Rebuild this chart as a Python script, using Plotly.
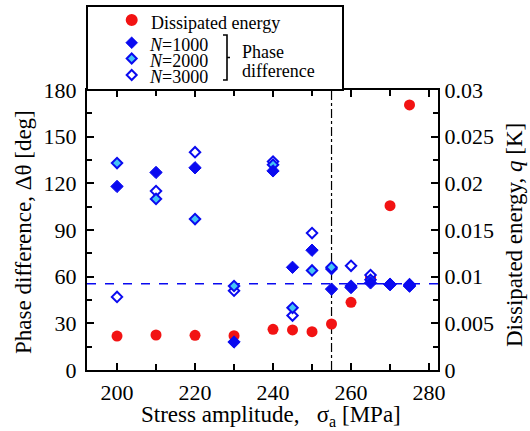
import plotly.graph_objects as go

# ---- data ----
stress = [200, 210, 220, 230, 240, 245, 250, 255, 260, 265, 270, 275]
dissipated = [0.00364, 0.00375, 0.00371, 0.00368, 0.00436, 0.00429, 0.0041,
              0.00493, 0.00725, 0.0099, 0.0176, 0.0284]
phase_n1000 = [118, 127, 130, 18, 128, 66, 77, 52, 53, 56, 55, 54]
phase_n2000 = [133, 110, 97, 54, 132, 40, 64, 66, 54, 58, 55, 55]
phase_n3000 = [47, 115, 140, 51, 134, 35, 88, 65, 67, 61, 55, 54]
threshold_phase = 55.5
fatigue_limit = 255

legend_labels = ["Dissipated energy", "<i>N</i>=1000", "<i>N</i>=2000", "<i>N</i>=3000"]

FONT = "Liberation Serif, Times New Roman, serif"
BLUE = "#0a0af0"
LIGHT = "#45c4f5"
RED = "#f21313"

fig = go.Figure()
# energy on primary axis (drawn first, underneath), phase on overlaying axis
fig.add_trace(go.Scatter(x=stress, y=dissipated, yaxis="y", mode="markers",
                         marker=dict(symbol="circle", size=11, color=RED, line=dict(width=0)),
                         name=legend_labels[0], showlegend=False))
fig.add_trace(go.Scatter(x=stress, y=phase_n3000, yaxis="y2", mode="markers",
                         marker=dict(symbol="diamond", size=8, color="white",
                                     line=dict(width=2, color=BLUE)),
                         name=legend_labels[3], showlegend=False))
fig.add_trace(go.Scatter(x=stress, y=phase_n2000, yaxis="y2", mode="markers",
                         marker=dict(symbol="diamond", size=8, color=LIGHT,
                                     line=dict(width=2, color=BLUE)),
                         name=legend_labels[2], showlegend=False))
fig.add_trace(go.Scatter(x=stress, y=phase_n1000, yaxis="y2", mode="markers",
                         marker=dict(symbol="diamond", size=9.5, color=BLUE,
                                     line=dict(width=1, color=BLUE)),
                         name=legend_labels[1], showlegend=False))

L, R, T, B = 87, 92, 90, 61
W, H = 530, 431
PW, PH = W - L - R, H - T - B


def px(x):
    return (x - L) / PW


def py(y):
    return (H - B - y) / PH


shapes = [
    dict(type="line", xref="paper", yref="y2", x0=0, x1=1, y0=threshold_phase, y1=threshold_phase,
         line=dict(color=BLUE, width=1.5, dash="dash"), layer="below"),
    dict(type="line", xref="x", yref="paper", x0=fatigue_limit, x1=fatigue_limit, y0=0, y1=1,
         line=dict(color="black", width=1.2, dash="dashdot"), layer="below"),
    # legend box
    dict(type="rect", xref="paper", yref="paper", x0=0, x1=px(343), y0=1, y1=py(6),
         line=dict(color="black", width=2), fillcolor="white"),
    # legend symbols
    dict(type="circle", xref="paper", yref="paper", xsizemode="pixel", ysizemode="pixel",
         xanchor=px(131.7), yanchor=py(20), x0=-6, x1=6, y0=-6, y1=6,
         fillcolor=RED, line=dict(width=0)),
    dict(type="path", xref="paper", yref="paper", xsizemode="pixel", ysizemode="pixel",
         xanchor=px(131.7), yanchor=py(42.7), path="M 0,6 L 6,0 L 0,-6 L -6,0 Z",
         fillcolor=BLUE, line=dict(width=0.5, color=BLUE)),
    dict(type="path", xref="paper", yref="paper", xsizemode="pixel", ysizemode="pixel",
         xanchor=px(131.7), yanchor=py(58.5), path="M 0,5 L 5,0 L 0,-5 L -5,0 Z",
         fillcolor=LIGHT, line=dict(width=2, color=BLUE)),
    dict(type="path", xref="paper", yref="paper", xsizemode="pixel", ysizemode="pixel",
         xanchor=px(131.7), yanchor=py(75), path="M 0,5 L 5,0 L 0,-5 L -5,0 Z",
         fillcolor="white", line=dict(width=2, color=BLUE)),
    # bracket
    dict(type="path", xref="paper", yref="paper", xsizemode="pixel", ysizemode="pixel",
         xanchor=px(227), yanchor=py(57.5),
         path="M -4,22.5 L 0,22.5 L 0,-22.5 L -4,-22.5 M 0,0 L 3,0",
         line=dict(width=1.6, color="black")),
]

ann = []


def text(t, x, y, size=18, **kw):
    ann.append(dict(text=t, xref="paper", yref="paper", x=px(x), y=py(y), showarrow=False,
                    xanchor=kw.pop("xanchor", "left"), yanchor="middle", borderpad=0,
                    font=dict(family=FONT, size=size, color="black"), **kw))


text(legend_labels[0], 150, 23)
text(legend_labels[1], 148, 45)
text(legend_labels[2], 148, 61)
text(legend_labels[3], 148, 77)
text("Phase", 241, 52)
text("difference", 241, 71)
text("Phase difference, Δθ [deg]", 23, 232, size=23, xanchor="center", textangle=-90)
text("Dissipated energy, <i>q</i> [K]", 515, 235, size=23, xanchor="center", textangle=-90)
text("Stress amplitude,\u00a0\u00a0\u00a0σ<sub>a</sub> [MPa]", 271, 416, size=23, xanchor="center")

axis_common = dict(showline=True, linecolor="black", linewidth=2, ticks="inside",
                   tickcolor="black", tickwidth=2, ticklen=7, showgrid=False, zeroline=False,
                   tickfont=dict(family=FONT, size=22, color="black"))

fig.update_layout(
    width=W, height=H, margin=dict(l=L, r=R, t=T, b=B, autoexpand=False),
    paper_bgcolor="white", plot_bgcolor="white", showlegend=False,
    xaxis=dict(range=[192.3, 282.3], dtick=20, tick0=200, mirror="ticks",
               minor=dict(dtick=10, tick0=200, ticks="inside", ticklen=6, tickwidth=2,
                          tickcolor="black"),
               ticklabelstandoff=2, **axis_common),
    yaxis=dict(range=[0, 0.03], dtick=0.005, tick0=0, side="right",
               minor=dict(dtick=0.0025, tick0=0, ticks="inside", ticklen=5, tickwidth=2,
                          tickcolor="black"),
               ticklabelstandoff=0, **axis_common),
    yaxis2=dict(range=[0, 180], dtick=30, tick0=0, overlaying="y", side="left",
                minor=dict(dtick=15, tick0=0, ticks="inside", ticklen=5, tickwidth=2,
                           tickcolor="black"),
                ticklabelstandoff=4, **axis_common),
    shapes=shapes, annotations=ann,
)

fig.write_html("out.html")
